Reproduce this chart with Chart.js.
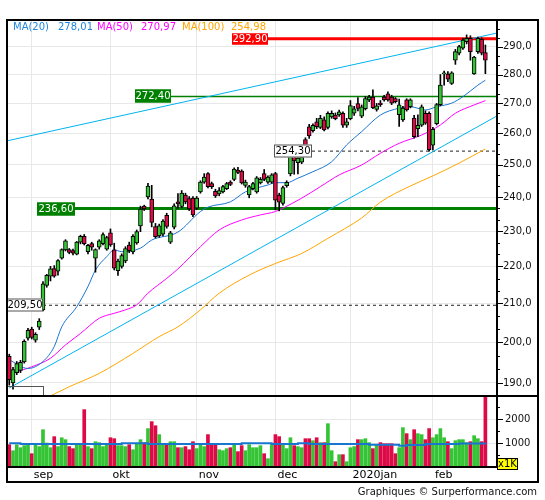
<!DOCTYPE html>
<html>
<head>
<meta charset="utf-8">
<script src="https://cdn.jsdelivr.net/npm/chart.js@4.4.1/dist/chart.umd.min.js"></script>
<style>
  html, body { margin: 0; padding: 0; background: #fff; }
  #wrap { position: relative; width: 545px; height: 500px; }
  #priceChart { position: absolute; left: 0; top: 0; }
  #volChart { position: absolute; left: 0; top: 395px; }
</style>
</head>
<body>
<div id="wrap">
  <canvas id="priceChart" width="545" height="396"></canvas>
  <canvas id="volChart" width="545" height="105"></canvas>
</div>
<script>
// daily candles, 23 aug 2019 -> 21 feb 2020 (index 0..127)
const opens = [196.5,190,192.5,193,195.1,201,203.3,200.5,203.8,208.3,
  214.8,217.3,219.4,218.7,222.3,224.6,224.7,224.4,223.4,226.8,
  228.5,224.1,226.4,222.3,225.4,226.4,224.8,229.5,224.6,218.8,
  220,221.5,226,224,226.6,231.5,237.3,240.1,239.4,231.3,
  228.6,229.1,234.6,226.8,231.1,238.6,237.2,240.6,239.6,239.7,
  236.7,241.6,244.6,247.2,244.1,241.8,241,241.6,242.6,244.6,
  245.4,248.3,248,243.6,240.7,242.6,241.6,244.3,247.2,244.6,
  244.6,247.2,240.6,238.1,243.5,247.1,252.6,250.6,250.8,258,
  262.2,260.9,263.8,262,264.5,262,265.5,266.1,266.1,266.7,
  262.7,264.9,266.7,270,265.7,268.2,271.2,272.2,268,270.1,
  272.2,273.3,272.2,271.7,266.2,264.5,271.2,268.9,265.1,261.6,
  262.7,266.7,266.7,256.2,263.2,269.6,280.2,280.2,276.9,285.1,
  287.6,289.4,291.8,293,280.2,288.2,292.7,287.8];
const highs = [197,193.8,195.2,195.5,200.6,203.5,203.8,202.4,206,215.8,
  217.8,220,220.2,221.9,224.9,227.5,225,224.8,227,228.8,
  229,226.2,226.8,224.9,227.5,229.5,228.5,230.6,226.5,222,
  223.5,225.5,226.8,229,230.3,237.3,237.6,244.2,243.6,232.2,
  232,233.3,235.2,229.9,238,241.1,242,241.2,240.2,240.2,
  240.2,245,247.2,247.5,244.6,242.4,242.9,243.6,244.5,245,
  249,249.2,248.4,245.2,243.6,244.5,246.3,246,248.5,246.5,
  247.2,247.6,241.2,243.4,245,253.2,253.5,253.2,253,258.6,
  263,263.2,265,266,265.5,267.2,267.5,266.8,267.8,267.2,
  265,271,269,272,269.5,272.4,272.8,274.7,270,271,
  272.8,274,272.8,272,271.5,269,271.6,271.6,266,266.2,
  269.5,267.5,267.2,262,270,280,281.2,281,281,289,
  290.5,293,294.3,294,286.5,293.5,293.2,290.6];
const lows = [189.5,188.5,192,192.5,194.8,200.5,200.8,200,203.2,208,
  214.3,216,217,217.6,222,224.3,223.5,223.2,223.2,226.3,
  226,223.5,224.5,218.4,224.8,226,224.5,225.6,219,217.5,
  219.5,221,223.8,223.5,226.2,229.8,236,239.5,231.2,228,
  228.2,228.6,230.8,226.4,230.6,236.7,236.8,238,236,234.2,
  236.3,241.2,244.2,242.8,242.6,239.9,240.4,241.3,242.3,243.5,
  245,247.2,244,243,239.8,242.2,241.2,244,245,244.2,
  244.2,236.2,235.9,237.6,243,246.5,247,247.1,250.3,253.6,
  258.4,260.4,261.6,261.6,260.8,261.5,265,264.5,265.6,262,
  262,264.5,266,267.5,265.2,267.8,270.6,268.2,267.4,269,
  270.8,270.8,269.6,270.2,262.3,264,267.4,268.5,258.5,259,
  262.3,263,254.3,254.8,262.8,269.2,276.3,277.5,276.5,283.6,
  287,289,291,285.1,280,287.5,287,280.3];
const closes = [190.8,193.2,194.7,195,200.2,203,201.2,202,205.4,215.2,
  217.5,219.3,217.3,221.6,224.7,227.2,223.9,223.7,226.8,228.5,
  226.4,225.9,225.4,224.7,227.2,229,228.1,226,219.5,221.5,
  223,225,224.4,228.5,229.8,236.4,236.5,243.4,232.5,228.4,
  231.5,232.9,231.3,229.5,237.4,238,241.2,238.6,236.5,234.7,
  239.7,244.6,246.1,243.2,243.2,240.4,242,243.2,244.1,243.9,
  248.6,247.6,244.3,244.6,243.2,244.1,245.9,245.4,245.4,246.1,
  246.8,239.1,238.5,242.9,244.5,252.6,251.2,252.1,252.3,254.6,
  259.2,262.7,262.2,265,261.2,266.7,266.7,264.9,267.2,262.7,
  263.8,269.3,268.2,268.3,268.9,271.7,272.2,268.6,269.2,269.6,
  271.2,271.2,270.1,270.6,269.5,268.4,267.8,271.2,259,262.7,
  268.9,263.4,254.8,261.4,269.6,276.3,280.6,278.4,280.6,288.2,
  290,292.4,293,288.2,286.2,293,287.6,285.1];
// volume in thousands
const volumes = [930,680,930,805,890,930,555,930,850,1555,
  1000,805,1265,850,1220,1140,850,765,970,970,
  2390,850,765,1055,1015,850,930,1220,1180,890,
  890,850,930,720,970,1140,1015,1600,1890,1720,
  1350,930,930,1055,1055,805,805,850,720,1055,
  765,930,850,1350,930,930,720,680,765,805,
  930,640,890,680,930,805,805,890,555,347,
  930,1350,1265,930,765,1220,890,850,805,1180,
  1180,1097,1220,1015,1015,1805,680,222,514,514,
  222,805,850,1140,1140,1180,1015,765,930,1015,
  970,970,970,555,805,1640,1390,1140,1555,1390,
  1350,1140,1600,1220,1350,1600,1220,1055,765,1097,
  1140,1140,1015,1055,1305,1180,1055,3100];

// moving averages (candle index -> value)
const ma20Idx = [0,5,9,12,14,18,21,23,26,28,30,35,38,45,51,53,59,63,69,71,74,77,81,86,90,94,99,104,107,111,114,118,121,125,127];
const ma20Val = [195.6,193.5,195.2,198.9,203.9,209.1,214.5,219.0,222.7,224.6,224.1,225.1,227.4,229.7,235.7,237.0,238.6,241.6,243.7,244.4,244.4,245.8,247.8,250.9,256.3,260.6,266.1,268.4,268.9,267.8,268.9,270.1,272.3,276.3,278.01];
const ma50Idx = [0,1,6,11,15,19,24,28,31,34,37,42,45,51,56,62,67,71,73,78,83,88,94,99,104,110,115,119,124,127];
const ma50Val = [191.8,192.3,193.9,196.0,199.3,202.2,206.1,207.4,208.3,209.6,212.7,216.7,219.3,225.5,230.3,233.2,234.7,235.7,236.7,239.7,243.2,246.8,249.9,253.6,256.8,259.5,262.8,266.7,269.5,270.97];
const ma100Idx = [10,16,24,33,40,45,51,56,64,71,78,85,94,99,107,113,120,127];
const ma100Val = [186.5,189.1,192.3,197.2,201.4,203.9,208.3,212.7,217.6,220.8,223.6,227.9,233.8,238.5,243.4,246.5,250.5,254.98];
const volMaIdx = [0,3,29,30,36,37,55,62,70,77,80,95,96,104,106,111,120,127];
const volMaVal = [990,960,960,985,985,960,960,990,960,990,960,960,930,890,920,960,975,1000];

// trend lines (two anchor points each)
const trendUpper = [[-0.6, 257.6], [130.1, 295.0]];
const trendLower = [[0, 188.8], [130.1, 265.8]];

// horizontal levels
const levelValues = [292.90, 272.40, 254.30, 236.60, 209.50];

// month axis
const monthStart = [6, 27, 50, 71, 91, 113];
const monthLabels = ['sep', 'okt', 'nov', 'dec', '2020jan', 'feb'];

const priceTicks = [190, 200, 210, 220, 230, 240, 250, 260, 270, 280, 290];
const volTicks = [1000, 2000];

const GREEN = '#35c435';
const RED = '#dc0a46';
const GRID = '#e8e8e8';
const X_MIN = -0.6, X_MAX = 130.1;

Chart.defaults.font.family = 'DejaVu Sans';
Chart.defaults.color = '#000';

const idx = closes.map((c, i) => i);
const upColors = closes.map((c, i) => c >= opens[i] ? GREEN : RED);

function zeroPad(scale) {
  scale.paddingTop = 0; scale.paddingBottom = 0;
  scale.paddingLeft = 0; scale.paddingRight = 0;
}

// minor ticks every 10/3 between the major ones
const minorTicks = [];
for (let k = 0; k < priceTicks.length - 1; k++) {
  minorTicks.push(priceTicks[k] + 10 / 3, priceTicks[k] + 20 / 3);
}
minorTicks.push(293.333, 296.667);

const levelStyle = [
  { line: '#ff0000', width: 3, dash: [], box: '#ff0000', border: '#ff0000', text: '#fff', bx: 232, bw: 36 },
  { line: '#008000', width: 1.5, dash: [], box: '#008000', border: '#008000', text: '#fff', bx: 135, bw: 36 },
  { line: '#222', width: 1, dash: [3, 3], box: '#fff', border: '#555', text: '#000', bx: 274, bw: 38 },
  { line: '#008000', width: 3, dash: [], box: '#008000', border: '#008000', text: '#fff', bx: 37, bw: 38 },
  { line: '#222', width: 1, dash: [3, 3], box: '#fff', border: '#555', text: '#000', bx: 7, bw: 36 }
];

const fmt = (v, d) => v.toFixed(d).replace('.', ',');

const priceDecor = {
  id: 'priceDecor',
  beforeDatasetsDraw(chart) {
    const ctx = chart.ctx, y = chart.scales.y, a = chart.chartArea;
    ctx.save();
    ctx.beginPath(); ctx.rect(a.left, a.top, a.right - a.left, a.bottom - a.top); ctx.clip();
    levelValues.forEach((v, k) => {
      const s = levelStyle[k];
      const py = y.getPixelForValue(v);
      ctx.strokeStyle = s.line; ctx.lineWidth = s.width; ctx.setLineDash(s.dash);
      ctx.beginPath(); ctx.moveTo(s.bx + s.bw, py); ctx.lineTo(a.right, py); ctx.stroke();
    });
    ctx.restore();
  },
  afterDatasetsDraw(chart) {
    const ctx = chart.ctx, y = chart.scales.y, a = chart.chartArea;
    ctx.save();
    // level labels
    ctx.font = '10px "DejaVu Sans"';
    ctx.textBaseline = 'middle'; ctx.textAlign = 'center';
    levelValues.forEach((v, k) => {
      const s = levelStyle[k];
      const py = Math.round(y.getPixelForValue(v));
      const h = k === 0 ? 11 : 13;
      ctx.fillStyle = s.box; ctx.fillRect(s.bx, py - h / 2, s.bw, h);
      ctx.strokeStyle = s.border; ctx.lineWidth = 1; ctx.setLineDash([]);
      ctx.strokeRect(s.bx + 0.5, py - h / 2 + 0.5, s.bw - 1, h - 1);
      ctx.fillStyle = s.text; ctx.fillText(fmt(v, 2), s.bx + s.bw / 2, py + 0.5);
    });
    // clipped label box at the bottom left
    ctx.save();
    ctx.beginPath(); ctx.rect(a.left, a.top, a.right - a.left, a.bottom - a.top); ctx.clip();
    ctx.strokeStyle = '#555'; ctx.lineWidth = 1;
    ctx.strokeRect(7.5, 386.5, 36, 14);
    ctx.restore();
    // legend
    ctx.textAlign = 'left';
    const leg = [
      ['MA(20)', 13, '#1f86e0'], [fmt(ma20Val[ma20Val.length - 1], 2), 58, '#1f86e0'],
      ['MA(50)', 97, '#ff00ff'], [fmt(ma50Val[ma50Val.length - 1], 2), 141, '#ff00ff'],
      ['MA(100)', 182, '#ffa500'], [fmt(ma100Val[ma100Val.length - 1], 2), 231, '#ffa500']
    ];
    leg.forEach(([t, x, c]) => { ctx.fillStyle = c; ctx.fillText(t, x, 27); });
    // frame
    ctx.strokeStyle = '#000'; ctx.lineWidth = 2;
    ctx.beginPath();
    ctx.moveTo(7, 396); ctx.lineTo(7, 20); ctx.lineTo(538, 20); ctx.lineTo(538, 396);
    ctx.moveTo(a.right, 20); ctx.lineTo(a.right, 396);
    ctx.stroke();
    // axis tick marks
    ctx.lineWidth = 1;
    ctx.beginPath();
    priceTicks.forEach(v => { const py = Math.round(y.getPixelForValue(v)) + 0.5; ctx.moveTo(a.right, py); ctx.lineTo(a.right + 6, py); });
    minorTicks.forEach(v => { const py = Math.round(y.getPixelForValue(v)) + 0.5; if (py > a.top && py < a.bottom) { ctx.moveTo(a.right, py); ctx.lineTo(a.right + 3, py); } });
    ctx.stroke();
    ctx.restore();
  }
};

const line = (xs, vs, color, width) => ({
  type: 'line',
  data: xs.map((x, k) => ({ x: x, y: vs[k] })),
  borderColor: color, borderWidth: width, pointRadius: 0,
  cubicInterpolationMode: 'monotone', order: 3
});

new Chart(document.getElementById('priceChart'), {
  data: {
    datasets: [
      { type: 'bar', data: idx.map(i => ({ x: i, y: [opens[i], closes[i]] })),
        backgroundColor: upColors, borderColor: '#000', borderWidth: 1, borderSkipped: false,
        barThickness: 4, grouped: false, order: 0 },
      { type: 'bar', data: idx.map(i => ({ x: i, y: [lows[i], highs[i]] })),
        backgroundColor: '#000', barThickness: 1, grouped: false, order: 1 },
      line(ma20Idx, ma20Val, '#1a75d0', 1),
      line(ma50Idx, ma50Val, '#ff00ff', 1),
      line(ma100Idx, ma100Val, '#ffa500', 1),
      line(trendUpper.map(p => p[0]), trendUpper.map(p => p[1]), '#00b4f0', 1),
      line(trendLower.map(p => p[0]), trendLower.map(p => p[1]), '#00b4f0', 1)
    ]
  },
  options: {
    responsive: false, animation: false, events: [],
    layout: { padding: { left: 7, right: 7, top: 20, bottom: 1 } },
    plugins: { legend: { display: false }, tooltip: { enabled: false } },
    scales: {
      x: {
        type: 'linear', min: X_MIN, max: X_MAX, bounds: 'data', offset: false,
        grid: { color: GRID, drawTicks: false, offset: false },
        border: { display: false },
        ticks: { display: false },
        afterBuildTicks: s => { s.ticks = monthStart.map(v => ({ value: v })); },
        afterFit: s => { s.height = 0; zeroPad(s); }
      },
      y: {
        type: 'logarithmic', position: 'right', min: 187.15, max: 299.87, bounds: 'data',
        beginAtZero: false,
        grid: { color: GRID, drawTicks: false },
        border: { display: false },
        ticks: { padding: 6, font: { size: 10 }, color: '#111', callback: v => fmt(v, 1) },
        afterBuildTicks: s => { s.ticks = priceTicks.map(v => ({ value: v })); },
        afterFit: s => { s.width = 41; zeroPad(s); }
      }
    }
  },
  plugins: [priceDecor]
});

const volDecor = {
  id: 'volDecor',
  afterDatasetsDraw(chart) {
    const ctx = chart.ctx, y = chart.scales.y, a = chart.chartArea;
    ctx.save();
    ctx.strokeStyle = '#000'; ctx.lineWidth = 2;
    ctx.beginPath();
    ctx.moveTo(7, 0); ctx.lineTo(7, 87); ctx.lineTo(538, 87); ctx.lineTo(538, 0);
    ctx.moveTo(7, 1); ctx.lineTo(538, 1);
    ctx.moveTo(7, a.bottom); ctx.lineTo(a.right, a.bottom);
    ctx.moveTo(a.right, 0); ctx.lineTo(a.right, a.bottom);
    ctx.stroke();
    ctx.lineWidth = 1;
    ctx.beginPath();
    [500, 1000, 1500, 2000, 2500].forEach(v => {
      const py = Math.round(y.getPixelForValue(v)) + 0.5;
      ctx.moveTo(a.right, py); ctx.lineTo(a.right + (v % 1000 === 0 ? 6 : 3), py);
    });
    ctx.stroke();
    // x1K box
    ctx.fillStyle = '#ffff00'; ctx.fillRect(497, 63, 21, 12);
    ctx.strokeStyle = '#000'; ctx.strokeRect(497.5, 63.5, 20, 11);
    ctx.fillStyle = '#000'; ctx.font = '10px "DejaVu Sans"';
    ctx.textBaseline = 'middle'; ctx.textAlign = 'center';
    ctx.fillText('x1K', 507.5, 69.5);
    // credit
    ctx.textAlign = 'right';
    ctx.fillStyle = '#111';
    ctx.fillText('Graphiques \u00a9 Surperformance.com', 537, 97);
    ctx.restore();
  }
};

new Chart(document.getElementById('volChart'), {
  data: {
    datasets: [
      { type: 'bar', data: idx.map(i => ({ x: i, y: volumes[i] })),
        backgroundColor: upColors, barThickness: 3, grouped: false, order: 1 },
      { type: 'line', data: volMaIdx.map((x, k) => ({ x: x, y: volMaVal[k] })),
        borderColor: '#1a75d0', borderWidth: 2, pointRadius: 0, stepped: true, order: 0 }
    ]
  },
  options: {
    responsive: false, animation: false, events: [],
    layout: { padding: { left: 7, right: 7, top: 0, bottom: 18 } },
    plugins: { legend: { display: false }, tooltip: { enabled: false } },
    scales: {
      x: {
        type: 'linear', min: X_MIN, max: X_MAX, bounds: 'data', offset: false,
        grid: { color: GRID, drawTicks: false, offset: false },
        border: { display: false },
        ticks: { font: { size: 11 }, align: 'start', labelOffset: 2, padding: 2, maxRotation: 0, autoSkip: false,
          callback: (v, k) => monthLabels[k] },
        afterBuildTicks: s => { s.ticks = monthStart.map(v => ({ value: v })); },
        afterFit: s => { s.height = 15; zeroPad(s); }
      },
      y: {
        type: 'linear', position: 'right', min: 0, max: 3000, bounds: 'data', beginAtZero: true,
        grid: { color: GRID, drawTicks: false },
        border: { display: false },
        ticks: { padding: 8, font: { size: 10 }, color: '#111', callback: v => String(v) },
        afterBuildTicks: s => { s.ticks = volTicks.map(v => ({ value: v })); },
        afterFit: s => { s.width = 41; zeroPad(s); }
      }
    }
  },
  plugins: [volDecor]
});
</script>
</body>
</html>
